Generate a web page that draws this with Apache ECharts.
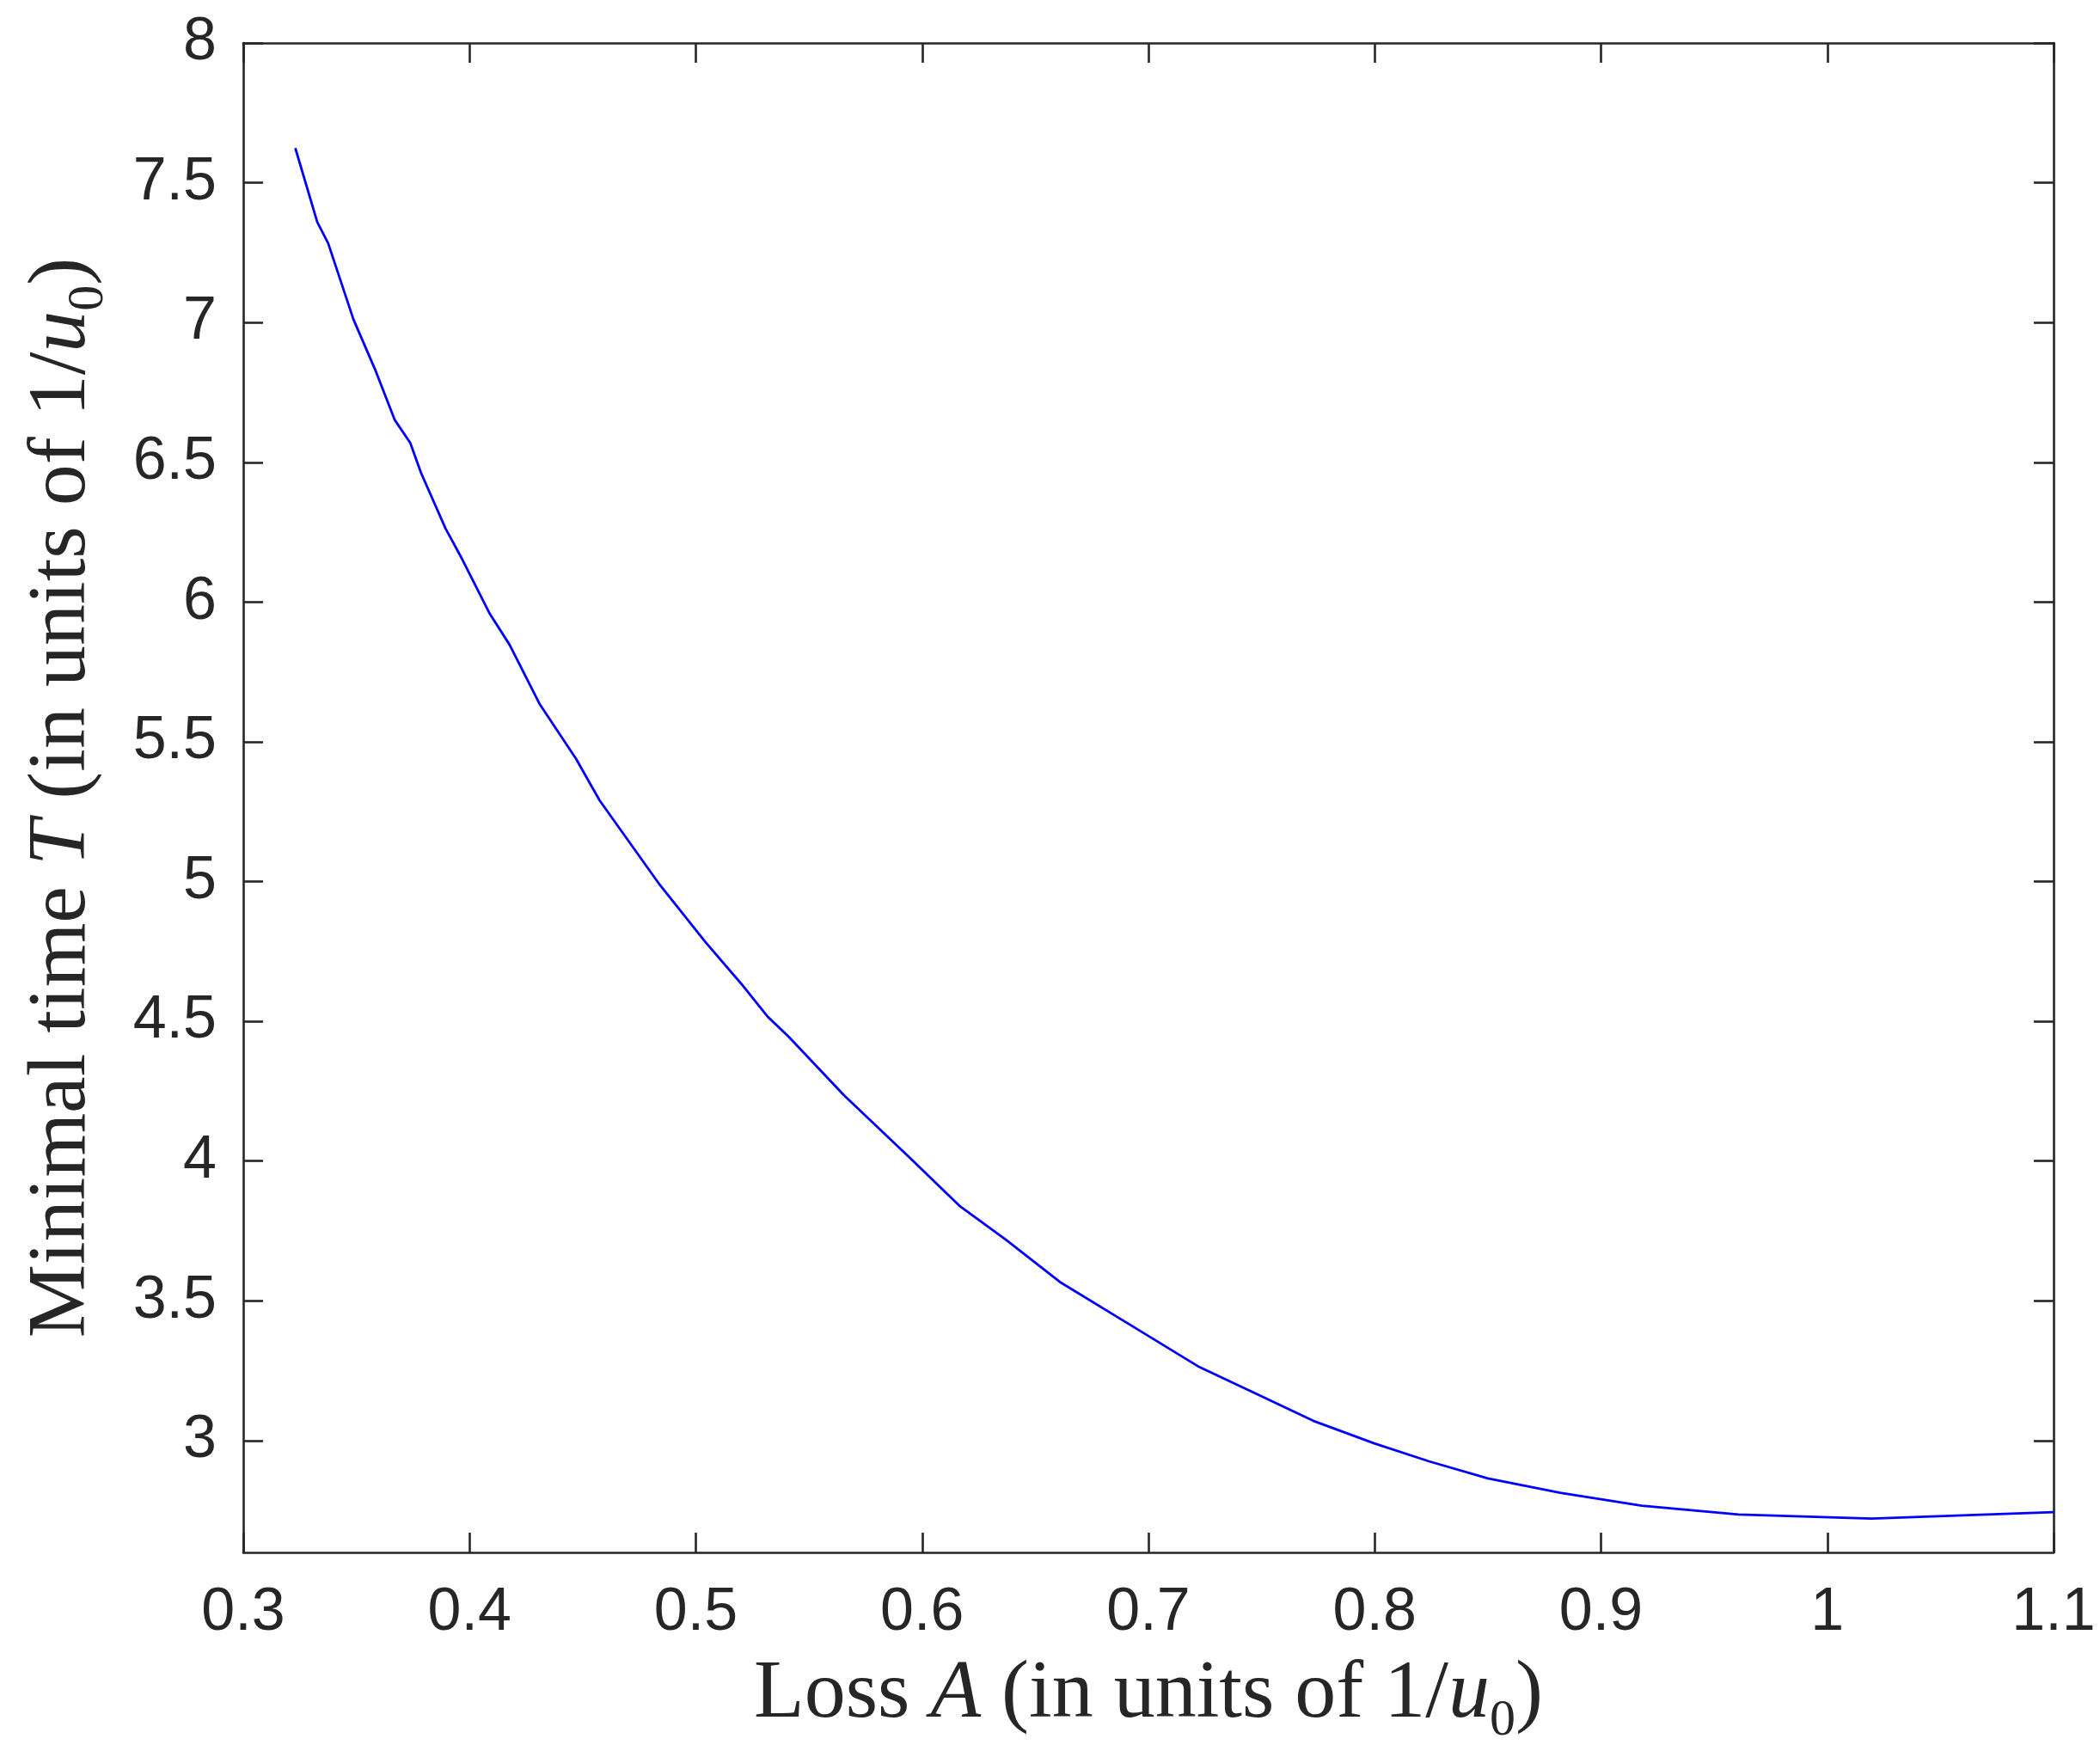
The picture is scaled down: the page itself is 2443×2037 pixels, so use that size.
<!DOCTYPE html>
<html>
<head>
<meta charset="utf-8">
<title>Minimal time vs loss</title>
<script src="https://cdn.jsdelivr.net/npm/echarts@6/dist/echarts.min.js"></script>
<style>
  html, body { margin: 0; padding: 0; background: #fff; }
  #chart { width: 2443px; height: 2037px; }
</style>
</head>
<body>
<div id="chart"></div>
<script>
// loss A (in units of 1/u0)
const lossA = [
  0.3230, 0.3327, 0.3375, 0.3487, 0.3581, 0.3669, 0.3738, 0.3785, 0.3894, 0.3967,
  0.4090, 0.4177, 0.4309, 0.4470, 0.4575, 0.4841, 0.5043, 0.5200, 0.5317, 0.5410,
  0.5655, 0.5947, 0.6168, 0.6371, 0.6608, 0.6914, 0.7219, 0.7473, 0.7728, 0.7998,
  0.8240, 0.8500, 0.8820, 0.9180, 0.9608, 1.0195, 1.1000
];
// minimal time T (in units of 1/u0)
const minTime = [
  7.624, 7.359, 7.284, 7.011, 6.835, 6.652, 6.569, 6.463, 6.263, 6.154,
  5.957, 5.847, 5.636, 5.440, 5.290, 4.988, 4.783, 4.635, 4.517, 4.445,
  4.235, 4.011, 3.838, 3.718, 3.568, 3.417, 3.266, 3.169, 3.071, 2.990,
  2.926, 2.865, 2.813, 2.767, 2.736, 2.721, 2.744
];
// axis ticks
const xTicks = [0.3, 0.4, 0.5, 0.6, 0.7, 0.8, 0.9, 1, 1.1];
const yTicks = [3, 3.5, 4, 4.5, 5, 5.5, 6, 6.5, 7, 7.5, 8];

const ink = '#262626';
const tickFont = 'Liberation Sans, Arial, Helvetica, sans-serif';
const titleFont = 'Liberation Serif, Times New Roman, serif';

// rich styles for the LaTeX-like axis titles
const titleRich = {
  r: { fontFamily: titleFont, fontSize: 96, lineHeight: 120, color: ink },
  i: { fontFamily: titleFont, fontSize: 96, lineHeight: 120, fontStyle: 'italic', color: ink },
  s: { fontFamily: titleFont, fontSize: 60, lineHeight: 60, verticalAlign: 'bottom', color: ink }
};

const chart = echarts.init(document.getElementById('chart'), null, { renderer: 'canvas' });

const boxLine = { show: true, lineStyle: { color: ink, width: 2.6 } };
const tickIn = { show: true, inside: true, length: 23, lineStyle: { color: ink, width: 2.6 } };

const option = {
  animation: false,
  backgroundColor: '#ffffff',
  grid: {
    left: 283,
    right: 54,
    top: 50,
    bottom: 231,
    containLabel: false
  },
  xAxis: [
    {
      type: 'value',
      min: 0.3,
      max: 1.1,
      interval: 0.1,
      position: 'bottom',
      axisLine: boxLine,
      axisTick: tickIn,
      splitLine: { show: false },
      axisLabel: {
        show: true,
        margin: 36,
        fontFamily: tickFont,
        fontSize: 70,
        color: ink,
        formatter: v => String(Math.round(v * 10) / 10)
      },
      name: '{r|Loss }{i|A}{r| (in units of 1/}{i|u}{s|0}{r|)}',
      nameLocation: 'middle',
      nameGap: 106,
      nameTextStyle: { rich: titleRich }
    },
    {
      type: 'value',
      min: 0.3,
      max: 1.1,
      interval: 0.1,
      position: 'top',
      axisLine: boxLine,
      axisTick: tickIn,
      axisLabel: { show: false },
      splitLine: { show: false }
    }
  ],
  yAxis: [
    {
      type: 'value',
      min: 2.6,
      max: 8,
      position: 'left',
      axisLine: boxLine,
      axisTick: Object.assign({ customValues: yTicks }, tickIn),
      splitLine: { show: false },
      axisLabel: {
        show: true,
        customValues: yTicks,
        margin: 31,
        fontFamily: tickFont,
        fontSize: 70,
        color: ink
      },
      name: '{r|Minimal time }{i|T}{r| (in units of 1/}{i|u}{s|0}{r|)}',
      nameLocation: 'middle',
      nameGap: 150,
      nameTextStyle: { rich: titleRich }
    },
    {
      type: 'value',
      min: 2.6,
      max: 8,
      position: 'right',
      axisLine: boxLine,
      axisTick: Object.assign({ customValues: yTicks }, tickIn),
      axisLabel: { show: false, customValues: yTicks },
      splitLine: { show: false }
    }
  ],
  series: [
    {
      type: 'line',
      xAxisIndex: 0,
      yAxisIndex: 0,
      data: lossA.map((a, k) => [a, minTime[k]]),
      showSymbol: false,
      smooth: false,
      lineStyle: { color: '#0000ff', width: 2.8 },
      itemStyle: { color: '#0000ff' }
    }
  ]
};

chart.setOption(option);
</script>
</body>
</html>
